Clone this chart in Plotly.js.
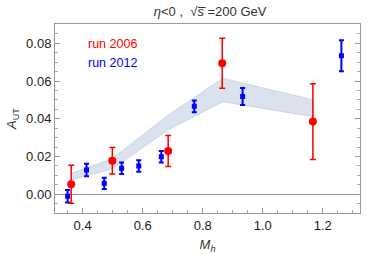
<!DOCTYPE html>
<html><head><meta charset="utf-8">
<script src="https://cdn.plot.ly/plotly-3.0.1.min.js"></script>
<style>html,body{margin:0;padding:0;background:#fff}#chart{width:382px;height:254px}</style>
</head><body><div id="chart"></div>
<script>
// run 2006
const mh2006 = [0.362, 0.499, 0.685, 0.865, 1.167];
const a2006 = [0.0053, 0.0178, 0.0229, 0.0694, 0.0385];
const e2006 = [0.0101, 0.0070, 0.0082, 0.0132, 0.0200];
// run 2012
const mh2012 = [0.350, 0.413, 0.472, 0.530, 0.587, 0.662, 0.772, 0.933, 1.262];
const a2012 = [-0.0010, 0.0129, 0.0058, 0.0138, 0.0150, 0.0199, 0.0466, 0.0518, 0.0734];
const e2012 = [0.0033, 0.0033, 0.0030, 0.0030, 0.0030, 0.0030, 0.0031, 0.0045, 0.0082];
// theory band
const bandX = [0.362, 0.499, 0.685, 0.867, 1.170];
const bandUp = [0.0110, 0.0190, 0.0420, 0.0615, 0.0500];
const bandLo = [0.0076, 0.0135, 0.0340, 0.0490, 0.0410];

const polyX = bandX.concat(bandX.slice().reverse());
const polyY = bandUp.concat(bandLo.slice().reverse());

const font = 'Liberation Sans, Arial, sans-serif';
const traces = [
  {x: polyX, y: polyY, type: 'scatter', mode: 'lines', fill: 'toself',
   fillcolor: 'rgba(205,216,232,0.75)', line: {color: 'rgba(170,180,200,0.6)', width: 0.7},
   hoverinfo: 'skip', showlegend: false},
  {x: mh2012, y: a2012, type: 'scatter', mode: 'markers',
   marker: {color: '#0000ff', symbol: 'square', size: 5},
   error_y: {type: 'data', array: e2012, visible: true, color: '#0000ff', thickness: 2, width: 2.5},
   showlegend: false},
  {x: mh2006, y: a2006, type: 'scatter', mode: 'markers',
   marker: {color: '#ff0000', symbol: 'circle', size: 8},
   error_y: {type: 'data', array: e2006, visible: true, color: '#ff0000', thickness: 1.5, width: 3},
   showlegend: false}
];

const layout = {
  width: 382, height: 254,
  margin: {l: 55, r: 22, t: 24, b: 41},
  paper_bgcolor: '#fff', plot_bgcolor: '#fff',
  font: {family: font, size: 12, color: '#222'},
  title: {text: '<i>η</i><0 ,  √<i>s\u0305</i> =200 GeV',
          font: {family: font, size: 13, color: '#333'}, x: 0.55, xanchor: 'center', y: 0.955, yanchor: 'middle'},
  xaxis: {range: [0.308, 1.324], tickvals: [0.4, 0.6, 0.8, 1.0, 1.2], ticktext: ['0.4','0.6','0.8','1.0','1.2'],
          ticks: 'inside', ticklen: 5, tickcolor: '#999', tickwidth: 1,
          minor: {dtick: 0.05, ticks: 'inside', ticklen: 3, tickcolor: '#aaa', tick0: 0},
          showline: true, linecolor: '#999', linewidth: 1, mirror: true, showgrid: false, zeroline: false,
          tickfont: {family: font, size: 13, color: '#222'},
          title: {text: '<i>M<sub>h</sub></i>', font: {family: font, size: 13, color: '#333'}, standoff: 9}},
  yaxis: {range: [-0.0099, 0.0902], tickvals: [0, 0.02, 0.04, 0.06, 0.08], ticktext: ['0.00','0.02','0.04','0.06','0.08'],
          ticks: 'inside', ticklen: 5, tickcolor: '#999', tickwidth: 1,
          minor: {dtick: 0.005, ticks: 'inside', ticklen: 3, tickcolor: '#aaa', tick0: 0},
          showline: true, linecolor: '#999', linewidth: 1, mirror: 'ticks', showgrid: false,
          zeroline: true, zerolinecolor: '#999', zerolinewidth: 1,
          tickfont: {family: font, size: 13, color: '#222'},
          title: {text: '<i>A</i><sub>UT</sub>', font: {family: font, size: 13, color: '#333'}, standoff: 6}},
  annotations: [
    {xref: 'x', yref: 'y', x: 0.411, y: 0.0796, text: 'run 2006', showarrow: false, xanchor: 'left', yanchor: 'middle',
     font: {family: font, size: 12.5, color: '#ff0000'}},
    {xref: 'x', yref: 'y', x: 0.411, y: 0.0698, text: 'run 2012', showarrow: false, xanchor: 'left', yanchor: 'middle',
     font: {family: font, size: 12.5, color: '#0000ff'}}
  ]
};
Plotly.newPlot('chart', traces, layout, {displayModeBar: false, staticPlot: true});
</script></body></html>
